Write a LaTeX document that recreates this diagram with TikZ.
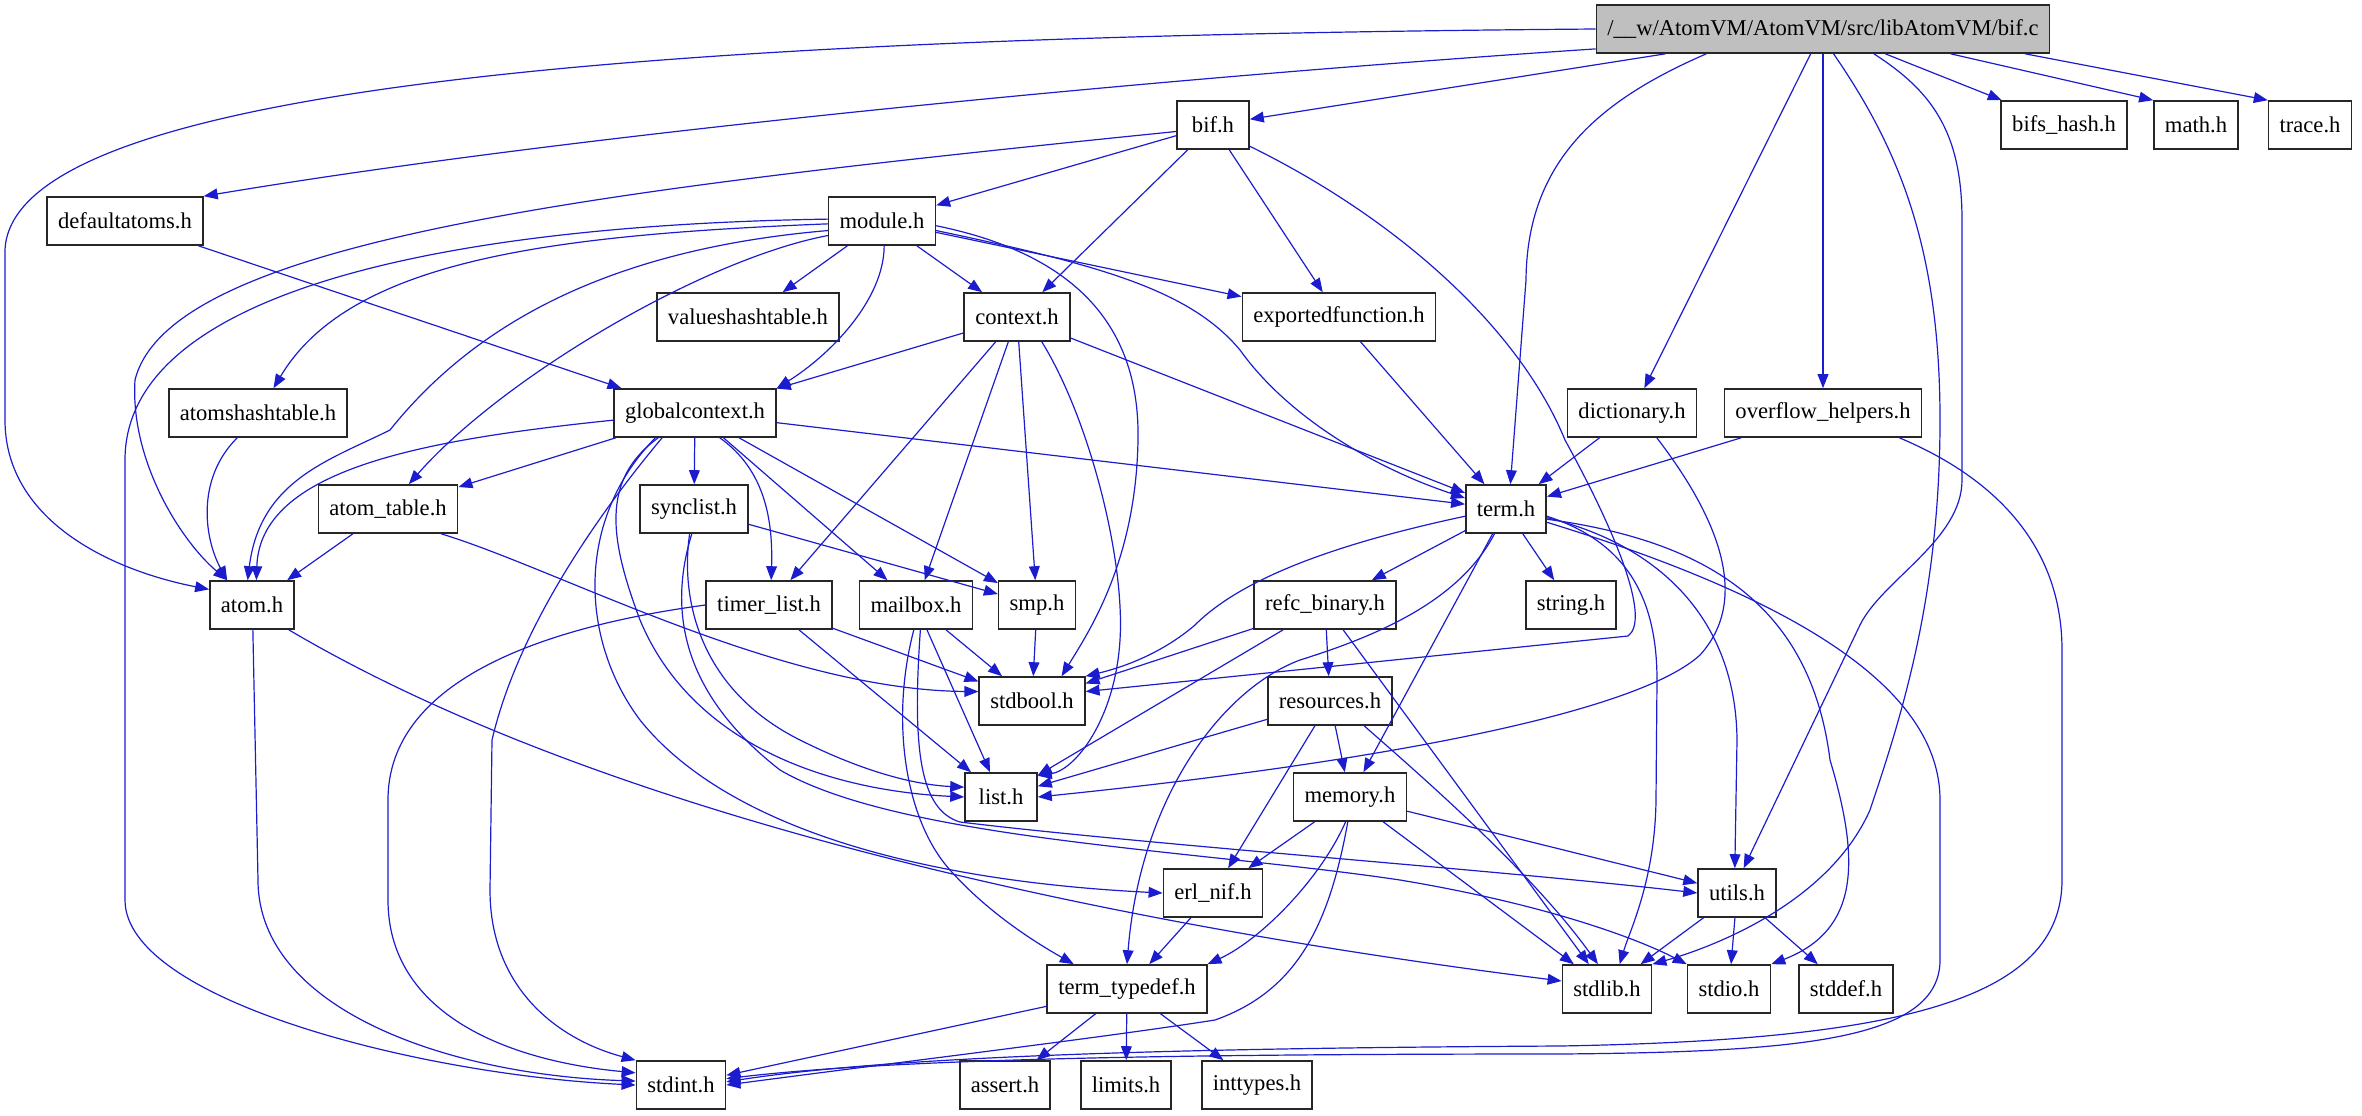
\documentclass[tikz,border=0pt]{standalone}
\usepackage{fontspec}
\setmainfont{Liberation Serif}
\usetikzlibrary{arrows.meta}
\definecolor{edgeblue}{HTML}{1C1CCF}
\definecolor{rootfill}{HTML}{BFBFBF}

\begin{document}
\begin{tikzpicture}[
  x=0.5pt, y=-0.5pt,
  font=\fontsize{11.3}{13}\selectfont,
  >={Triangle[length=7pt,width=5.4pt]},
  line/.style={->,line width=0.6pt,draw=edgeblue},
  filebox/.style={draw=black!85,fill=white,line width=0.8pt,minimum height=24pt,
                  minimum width=36pt,inner xsep=5.5pt,inner ysep=0pt},
  rootbox/.style={filebox,fill=rootfill}
]
\useasboundingbox (0,0) rectangle (2362,1115);

\node[rootbox] (bifc) at (1823,29) {/\_\_w/AtomVM/AtomVM/src/libAtomVM/bif.c};
\node[filebox] (bifh) at (1213,125) {bif.h};
\node[filebox] (bifshash) at (2064,125) {bifs\_hash.h};
\node[filebox] (mathh) at (2196,125) {math.h};
\node[filebox] (traceh) at (2310,125) {trace.h};
\node[filebox] (defaultatoms) at (125,221) {defaultatoms.h};
\node[filebox] (moduleh) at (882,221) {module.h};
\node[filebox] (valueshash) at (748,317) {valueshashtable.h};
\node[filebox] (contexth) at (1017,317) {context.h};
\node[filebox] (exportedfn) at (1339,317) {exportedfunction.h};
\node[filebox] (atomshash) at (258,413) {atomshashtable.h};
\node[filebox] (globalctx) at (695,413) {globalcontext.h};
\node[filebox] (dictionaryh) at (1632,413) {dictionary.h};
\node[filebox] (overflowh) at (1823,413) {overflow\_helpers.h};
\node[filebox] (atomtable) at (388,509) {atom\_table.h};
\node[filebox] (synclisth) at (694,509) {synclist.h};
\node[filebox] (termh) at (1506,509) {term.h};
\node[filebox] (atomh) at (252,605) {atom.h};
\node[filebox] (timerlist) at (769,605) {timer\_list.h};
\node[filebox] (mailboxh) at (916,605) {mailbox.h};
\node[filebox] (smph) at (1037,605) {smp.h};
\node[filebox] (refcbinary) at (1325,605) {refc\_binary.h};
\node[filebox] (stringh) at (1571,605) {string.h};
\node[filebox] (stdboolh) at (1032,701) {stdbool.h};
\node[filebox] (resourcesh) at (1330,701) {resources.h};
\node[filebox] (listh) at (1001,797) {list.h};
\node[filebox] (memoryh) at (1350,797) {memory.h};
\node[filebox] (erlnif) at (1213,893) {erl\_nif.h};
\node[filebox] (utilsh) at (1737,893) {utils.h};
\node[filebox] (termtypedef) at (1127,989) {term\_typedef.h};
\node[filebox] (stdlibh) at (1607,989) {stdlib.h};
\node[filebox] (stdioh) at (1729,989) {stdio.h};
\node[filebox] (stddefh) at (1846,989) {stddef.h};
\node[filebox] (stdinth) at (681,1085) {stdint.h};
\node[filebox] (asserth) at (1005,1085) {assert.h};
\node[filebox] (limitsh) at (1126,1085) {limits.h};
\node[filebox] (inttypesh) at (1257,1085) {inttypes.h};

\draw[line] (bifc.west) .. controls (700,36) and (12,80) .. (5,250) -- (5,420)
  .. controls (5,520) and (110,570) .. (atomh.160);
\draw[line] (bifc.185) .. controls (1200,75) and (600,130) .. (defaultatoms.north east);
\draw[line] (bifc) -- (bifh);
\draw[line] (bifc.192) .. controls (1600,100) and (1527,160) .. (1526,280) -- (termh.80);
\draw[line] (bifc) -- (dictionaryh);
\draw[line] (bifc) -- (overflowh);
\draw[line] (bifc.-67) .. controls (1900,150) and (1940,250) .. (1940,420)
  .. controls (1940,600) and (1900,720) .. (1870,810)
  .. controls (1830,900) and (1720,945) .. (stdlibh.north east);
\draw[line] (bifc.-26) .. controls (1930,90) and (1962,130) .. (1962,220) -- (1962,480)
  .. controls (1962,540) and (1882,580) .. (1860,625) -- (utilsh.75);
\draw[line] (bifc) -- (bifshash);
\draw[line] (bifc.-11) -- (mathh.north west);
\draw[line] (bifc.-7) -- (traceh.north west);

\draw[line] (bifh) -- (moduleh);
\draw[line] (bifh) -- (contexth);
\draw[line] (bifh) -- (exportedfn);
\draw[line] (bifh.190) .. controls (600,190) and (170,240) .. (135,380)
  .. controls (130,460) and (180,540) .. (atomh.135);
\draw[line] (bifh.-30) .. controls (1400,220) and (1520,330) .. (1565,440)
  .. controls (1620,540) and (1650,620) .. (1628,636) -- (stdboolh.10);

\draw[line] (moduleh) -- (valueshash);
\draw[line] (moduleh) -- (contexth);
\draw[line] (moduleh) -- (exportedfn);
\draw[line] (moduleh.-85) .. controls (884,300) and (830,355) .. (globalctx.north east);
\draw[line] (moduleh.-10) .. controls (1100,265) and (1190,290) .. (1240,350)
  .. controls (1290,420) and (1380,470) .. (termh.165);
\draw[line] (moduleh.-5) .. controls (1080,255) and (1140,330) .. (1138,440)
  .. controls (1136,560) and (1090,630) .. (stdboolh.40);
\draw[line] (moduleh.190) .. controls (600,250) and (470,330) .. (390,430)
  .. controls (330,460) and (260,480) .. (atomh.100);
\draw[line] (moduleh.183) .. controls (550,235) and (350,260) .. (atomshash.58);
\draw[line] (moduleh.195) .. controls (700,260) and (500,380) .. (atomtable.50);
\draw[line] (moduleh.178) .. controls (450,225) and (125,290) .. (125,460) -- (125,900)
  .. controls (125,1000) and (420,1075) .. (stdinth.west);

\draw[line] (contexth) -- (globalctx);
\draw[line] (contexth) -- (timerlist);
\draw[line] (contexth) -- (mailboxh);
\draw[line] (contexth) -- (smph);
\draw[line] (contexth.-45) .. controls (1090,420) and (1125,560) .. (1120,640)
  .. controls (1115,720) and (1075,770) .. (listh.30);
\draw[line] (contexth) -- (termh);

\draw[line] (exportedfn) -- (termh);
\draw[line] (defaultatoms) -- (globalctx);
\draw[line] (atomshash.-130) .. controls (195,480) and (205,540) .. (atomh.135);

\draw[line] (globalctx.-175) .. controls (420,440) and (260,470) .. (atomh.80);
\draw[line] (globalctx) -- (atomtable);
\draw[line] (globalctx) -- (synclisth);
\draw[line] (globalctx.-45) .. controls (765,470) and (773,520) .. (timerlist.85);
\draw[line] (globalctx) -- (mailboxh);
\draw[line] (globalctx) -- (smph);
\draw[line] (globalctx) -- (termh);
\draw[line] (globalctx.-143) .. controls (610,500) and (520,620) .. (492,740) -- (490,890)
  .. controls (490,990) and (560,1040) .. (stdinth.north west);
\draw[line] (globalctx.-146) .. controls (600,480) and (610,540) .. (640,620)
  .. controls (690,740) and (820,790) .. (listh.west);
\draw[line] (globalctx.-148) .. controls (575,520) and (580,640) .. (640,720)
  .. controls (720,820) and (900,880) .. (erlnif.west);

\draw[line] (synclisth) -- (smph);
\draw[line] (synclisth.-100) .. controls (680,600) and (700,690) .. (800,740)
  .. controls (870,775) and (920,785) .. (listh.165);
\draw[line] (synclisth.-95) .. controls (665,620) and (690,700) .. (780,770)
  .. controls (900,840) and (1200,850) .. (1400,880)
  .. controls (1550,905) and (1640,940) .. (stdioh.north west);

\draw[line] (atomtable) -- (atomh);
\draw[line] (atomtable.-25) .. controls (560,570) and (780,690) .. (stdboolh.170);
\draw[line] (atomh.-88) -- (258,880) .. controls (258,1010) and (450,1075) .. (stdinth.175);
\draw[line] (atomh.-34) .. controls (560,790) and (1000,910) .. (stdlibh.170);

\draw[line] (timerlist.west) .. controls (520,630) and (388,690) .. (388,800) -- (388,900)
  .. controls (388,1010) and (500,1060) .. (stdinth.165);
\draw[line] (timerlist) -- (listh);
\draw[line] (timerlist) -- (stdboolh);

\draw[line] (mailboxh) -- (stdboolh);
\draw[line] (mailboxh) -- (listh);
\draw[line] (mailboxh.-95) .. controls (890,720) and (905,820) .. (950,870)
  .. controls (990,915) and (1040,945) .. (termtypedef.155);
\draw[line] (mailboxh.-80) .. controls (912,750) and (920,810) .. (960,822)
  .. controls (1150,845) and (1500,870) .. (utilsh.west);
\draw[line] (smph) -- (stdboolh);

\draw[line] (termh.-170) .. controls (1330,545) and (1240,580) .. (1195,625)
  .. controls (1160,655) and (1120,668) .. (stdboolh.north east);
\draw[line] (termh) -- (refcbinary);
\draw[line] (termh) -- (stringh);
\draw[line] (termh) -- (memoryh);
\draw[line] (termh.-115) .. controls (1460,600) and (1380,635) .. (1300,660)
  .. controls (1220,690) and (1140,800) .. (termtypedef.north);
\draw[line] (termh.-10) .. controls (1620,540) and (1657,590) .. (1657,680) -- (1656,800)
  .. controls (1655,880) and (1630,930) .. (stdlibh.63);
\draw[line] (termh.-12) .. controls (1660,545) and (1736,620) .. (1737,740) -- (utilsh.95);
\draw[line] (termh.-14) .. controls (1700,540) and (1810,600) .. (1830,760)
  .. controls (1860,860) and (1860,930) .. (stdioh.north east);
\draw[line] (termh.-18) .. controls (1800,600) and (1940,690) .. (1940,800) -- (1940,960)
  .. controls (1940,1040) and (1800,1052) .. (1560,1054)
  .. controls (1200,1054) and (900,1058) .. (stdinth.8);

\draw[line] (refcbinary) -- (stdboolh);
\draw[line] (refcbinary) -- (listh);
\draw[line] (refcbinary) -- (resourcesh);
\draw[line] (refcbinary) -- (stdlibh);

\draw[line] (resourcesh) -- (listh);
\draw[line] (resourcesh) -- (erlnif);
\draw[line] (resourcesh) -- (memoryh);
\draw[line] (resourcesh.-36) .. controls (1420,775) and (1530,870) .. (stdlibh.110);

\draw[line] (memoryh) -- (erlnif);
\draw[line] (memoryh.-100) .. controls (1320,880) and (1260,940) .. (termtypedef.north east);
\draw[line] (memoryh.-95) .. controls (1330,920) and (1300,990) .. (1215,1020)
  .. controls (1100,1038) and (900,1062) .. (stdinth.east);
\draw[line] (memoryh) -- (stdlibh);
\draw[line] (memoryh) -- (utilsh);

\draw[line] (erlnif) -- (termtypedef);
\draw[line] (termtypedef) -- (stdinth);
\draw[line] (termtypedef) -- (asserth);
\draw[line] (termtypedef) -- (limitsh);
\draw[line] (termtypedef) -- (inttypesh);
\draw[line] (utilsh) -- (stdlibh);
\draw[line] (utilsh) -- (stdioh);
\draw[line] (utilsh) -- (stddefh);

\draw[line] (dictionaryh) -- (termh);
\draw[line] (dictionaryh.-45) .. controls (1720,520) and (1750,600) .. (1700,655)
  .. controls (1640,710) and (1400,760) .. (listh.east);
\draw[line] (overflowh) -- (termh);
\draw[line] (overflowh.-18) .. controls (2000,480) and (2062,550) .. (2062,650) -- (2062,880)
  .. controls (2062,1000) and (1900,1040) .. (1560,1046)
  .. controls (1200,1048) and (900,1055) .. (stdinth.4);
\end{tikzpicture}
\end{document}
